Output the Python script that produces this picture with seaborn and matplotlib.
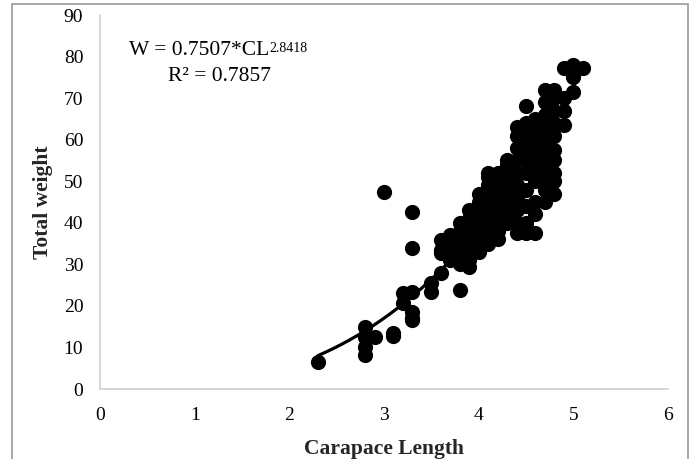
import numpy as np
import pandas as pd
import matplotlib
matplotlib.use("Agg")
import matplotlib.pyplot as plt
from matplotlib.patches import Rectangle
import seaborn as sns

# Carapace length (cm) and total weight (g) for each specimen
carapace_length = [
    2.3, 2.8, 2.8, 2.8, 2.8, 2.9, 3.1, 3.1, 3.0,
    3.2, 3.2, 3.3, 3.3, 3.3, 3.3, 3.3, 3.3,
    3.5, 3.5, 3.6, 3.6, 3.6, 3.6,
    3.7, 3.7, 3.7,
    3.8, 3.8, 3.8, 3.8, 3.8, 3.8, 3.8,
    3.9, 3.9, 3.9, 3.9, 3.9, 3.9, 3.9, 3.9,
    4.0, 4.0, 4.0, 4.0, 4.0, 4.0, 4.0, 4.0,
    4.1, 4.1, 4.1, 4.1, 4.1, 4.1, 4.1, 4.1, 4.1, 4.1,
    4.2, 4.2, 4.2, 4.2, 4.2, 4.2, 4.2, 4.2, 4.2,
    4.3, 4.3, 4.3, 4.3, 4.3, 4.3, 4.3, 4.3, 4.3,
    4.4, 4.4, 4.4, 4.4, 4.4, 4.4, 4.4, 4.4, 4.4, 4.4,
    4.5, 4.5, 4.5, 4.5, 4.5, 4.5, 4.5, 4.5, 4.5, 4.5,
    4.6, 4.6, 4.6, 4.6, 4.6, 4.6, 4.6, 4.6, 4.6,
    4.7, 4.7, 4.7, 4.7, 4.7, 4.7, 4.7, 4.7, 4.7, 4.7,
    4.8, 4.8, 4.8, 4.8, 4.8, 4.8, 4.8, 4.8, 4.8, 4.8,
    4.9, 4.9, 4.9, 4.9,
    5.0, 5.0, 5.0,
    5.1,
]
total_weight = [
    6.5, 15.0, 12.5, 10.0, 8.2, 12.5, 13.5, 12.8, 47.4,
    20.7, 23.0, 16.6, 18.5, 23.3, 34.0, 42.6, 17.0,
    23.4, 25.5, 28.0, 32.7, 33.4, 35.8,
    31.0, 34.0, 37.0,
    23.8, 30.0, 32.0, 34.0, 36.0, 38.0, 40.0,
    29.4, 31.0, 33.0, 35.0, 37.0, 39.0, 41.0, 43.0,
    33.0, 35.0, 37.0, 39.0, 41.0, 43.0, 45.0, 47.0,
    35.0, 37.0, 39.0, 41.0, 43.0, 45.0, 47.0, 49.0, 51.0, 52.0,
    36.0, 38.0, 40.0, 42.0, 44.0, 46.0, 48.0, 50.0, 52.0,
    40.0, 42.0, 44.0, 46.0, 48.0, 50.0, 52.0, 54.0, 55.0,
    37.5, 40.0, 43.0, 46.0, 49.0, 52.0, 55.0, 58.0, 61.0, 63.0,
    37.5, 40.0, 44.0, 48.0, 52.0, 55.0, 58.0, 61.0, 64.0, 68.0,
    37.5, 42.0, 45.0, 50.0, 53.0, 56.0, 59.0, 62.0, 65.0,
    45.0, 48.0, 51.0, 54.0, 57.0, 60.0, 63.0, 66.0, 69.0, 72.0,
    47.0, 50.0, 52.0, 55.0, 57.5, 61.0, 64.0, 67.0, 70.0, 72.0,
    63.5, 67.0, 70.0, 77.2,
    71.5, 75.0, 78.0,
    77.2,
]

# Power-law length-weight relationship W = a * CL^b
coef_a = 0.7507
coef_b = 2.8418
r_squared = 0.7857

x_ticks = [0, 1, 2, 3, 4, 5, 6]
y_ticks = [0, 10, 20, 30, 40, 50, 60, 70, 80, 90]

sns.set_theme(style="white")
plt.rcParams["font.family"] = ["Liberation Serif", "DejaVu Serif"]

df = pd.DataFrame({"CL": carapace_length, "W": total_weight})
cl_line = np.linspace(min(carapace_length), max(carapace_length), 200)
fit = pd.DataFrame({"CL": cl_line, "W": coef_a * cl_line ** coef_b})

fig = plt.figure(figsize=(6.94, 4.59), dpi=100)
ax = fig.add_axes([100 / 694, 70 / 459, 568 / 694, 374 / 459])

sns.scatterplot(data=df, x="CL", y="W", ax=ax, color="black", s=120,
                linewidth=0, zorder=3)
sns.lineplot(data=fit, x="CL", y="W", ax=ax, color="black", linewidth=2.3,
             zorder=4)

ax.set_xlim(0, 6)
ax.set_ylim(0, 90)
ax.set_xticks(x_ticks)
ax.set_yticks(y_ticks)
ax.tick_params(axis="x", labelsize=14, pad=13, length=0, colors="black")
ax.tick_params(axis="y", labelsize=14, pad=12, length=0, colors="black")

for side in ("top", "right"):
    ax.spines[side].set_visible(False)
for side in ("left", "bottom"):
    ax.spines[side].set_color("#d0d0d0")
    ax.spines[side].set_linewidth(1.2)

ax.set_xlabel("Carapace Length", fontsize=15.5, fontweight="bold",
              labelpad=11)
ax.set_ylabel("Total weight", fontsize=15.5, fontweight="bold", labelpad=8)

# Regression equation with the exponent as a small superscript
eq = ax.text(0.31, 81.4, "W = %.4f*CL" % coef_a, fontsize=15.5,
             ha="left", va="center", color="black")
ax.annotate("%.4f" % coef_b, xy=(1.0, 0.97), xycoords=eq, fontsize=10,
            ha="left", va="top", color="black")
ax.text(0.72, 75.3, "R² = %.4f" % r_squared, fontsize=15.5, ha="left",
        va="center", color="black")

# Outer frame around the chart area
fig.patches.append(Rectangle((12 / 694, -0.02), 676 / 694, 1.02 - 4 / 459,
                             transform=fig.transFigure, fill=False,
                             edgecolor="#9a9a9a", linewidth=1.2))

fig.savefig("out.png", dpi=100)
